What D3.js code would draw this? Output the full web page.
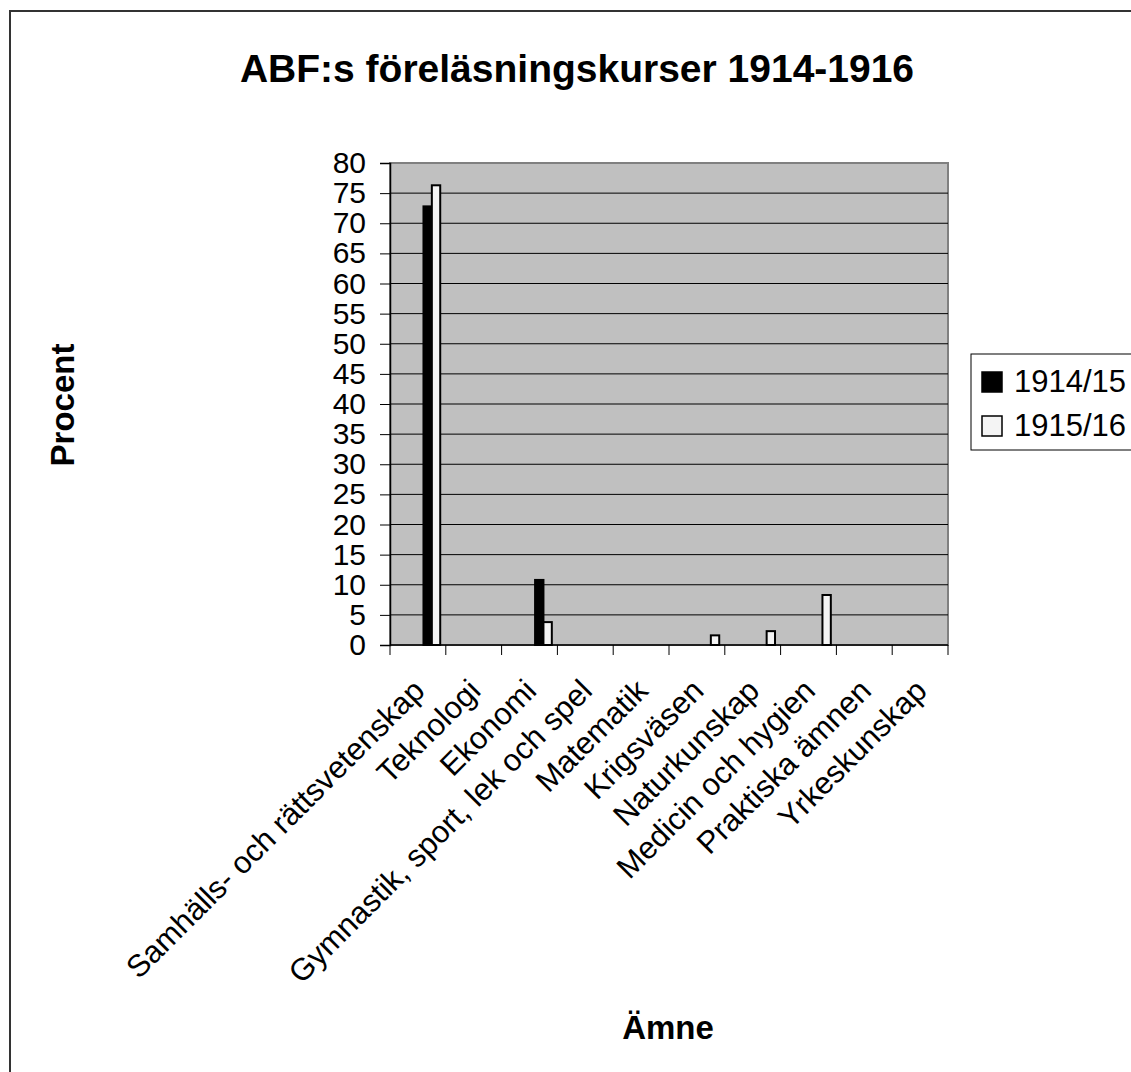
<!DOCTYPE html>
<html>
<head>
<meta charset="utf-8">
<script src="https://cdn.jsdelivr.net/npm/d3@7"></script>
<style>
  body { margin: 0; background: #fff; }
  svg { display: block; font-family: "Liberation Sans", Arial, sans-serif; }
</style>
</head>
<body>
<svg width="1131" height="1072"></svg>
<script>
const categories = ["Samhälls- och rättsvetenskap", "Teknologi", "Ekonomi", "Gymnastik, sport, lek och spel",
  "Matematik", "Krigsväsen", "Naturkunskap", "Medicin och hygien", "Praktiska ämnen", "Yrkeskunskap"];
const seriesNames = ["1914/15", "1915/16"];
const values1914 = [72.8, 0, 10.8, 0, 0, 0, 0, 0, 0, 0];
const values1915 = [76.3, 0, 3.8, 0, 0, 1.6, 2.3, 8.3, 0, 0];
const yTicks = d3.range(0, 81, 5);

const svg = d3.select("svg");
const fills = { "1914/15": "#000000", "1915/16": "#f4f4f4" };

// outer chart border (runs off the right/bottom edge like the original)
svg.append("rect").attr("x", 10).attr("y", 11).attr("width", 1140).attr("height", 1080)
  .attr("fill", "none").attr("stroke", "#333").attr("stroke-width", 2);

const pLeft = 390, pRight = 948, pTop = 163, pBottom = 645;
const x = d3.scaleBand().domain(categories).range([pLeft, pRight]).padding(0);
const y = d3.scaleLinear().domain([0, 80]).range([pBottom, pTop]);
// bars sit in the right part of each category slot (as in the source spreadsheet)
const xs = d3.scaleBand().domain(seriesNames).range([x.bandwidth() * 0.6, x.bandwidth() * 0.9]);

// plot area
svg.append("rect").attr("x", pLeft).attr("y", pTop).attr("width", pRight - pLeft).attr("height", pBottom - pTop)
  .attr("fill", "#c0c0c0").attr("stroke", "#808080").attr("stroke-width", 2);

// gridlines
svg.append("g").selectAll("line").data(yTicks.filter(d => d > 0 && d < 80)).join("line")
  .attr("x1", pLeft).attr("x2", pRight).attr("y1", d => y(d)).attr("y2", d => y(d))
  .attr("stroke", "#000").attr("stroke-width", 1);

// bars
const rows = categories.map((c, i) => ({ cat: c, "1914/15": values1914[i], "1915/16": values1915[i] }));
svg.append("g").selectAll("g").data(rows).join("g")
  .attr("transform", d => `translate(${x(d.cat)},0)`)
  .selectAll("rect").data(d => seriesNames.map(s => ({ s, v: d[s] })).filter(e => e.v > 0)).join("rect")
  .attr("x", d => xs(d.s)).attr("width", xs.bandwidth())
  .attr("y", d => y(d.v)).attr("height", d => y(0) - y(d.v))
  .attr("fill", d => fills[d.s]).attr("stroke", "#000").attr("stroke-width", 2);

// y axis
const yAxis = svg.append("g").attr("transform", `translate(${pLeft},0)`)
  .call(d3.axisLeft(y).tickValues(yTicks).tickSize(10).tickPadding(14).tickFormat(d3.format("d")));
yAxis.select(".domain").attr("stroke", "#000").attr("stroke-width", 1.5);
yAxis.selectAll(".tick line").attr("stroke", "#000");
yAxis.selectAll("text").attr("font-size", 30).attr("fill", "#000").attr("font-family", "Liberation Sans, Arial");

// x axis
const xAxis = svg.append("g").attr("transform", `translate(0,${pBottom})`);
xAxis.append("line").attr("x1", pLeft).attr("x2", pRight).attr("stroke", "#000").attr("stroke-width", 1.5);
const bounds = categories.map(c => x(c)).concat([pRight]);
xAxis.selectAll(".tk").data(bounds).join("line").attr("class", "tk")
  .attr("x1", d => d).attr("x2", d => d).attr("y1", 0).attr("y2", 10).attr("stroke", "#000");
xAxis.selectAll("text").data(categories).join("text")
  .attr("transform", d => `translate(${x(d) + x.bandwidth() / 2 - 7},${32}) rotate(-45)`)
  .attr("text-anchor", "end").attr("dy", "0.71em")
  .attr("font-size", 31).text(d => d);

// titles
svg.append("text").attr("x", 577).attr("y", 82).attr("text-anchor", "middle")
  .attr("font-size", 39).attr("font-weight", "bold").text("ABF:s föreläsningskurser 1914-1916");
svg.append("text").attr("transform", "translate(74,405) rotate(-90)").attr("text-anchor", "middle")
  .attr("font-size", 33).attr("font-weight", "bold").text("Procent");
svg.append("text").attr("x", 668).attr("y", 1039).attr("text-anchor", "middle")
  .attr("font-size", 33).attr("font-weight", "bold").text("Ämne");

// legend
const lg = svg.append("g").attr("transform", "translate(971,354)");
lg.append("rect").attr("width", 170).attr("height", 96).attr("fill", "#fff").attr("stroke", "#000").attr("stroke-width", 1);
const li = lg.selectAll("g").data(seriesNames).join("g").attr("transform", (d, i) => `translate(0,${i * 44})`);
li.append("rect").attr("x", 11).attr("y", 18).attr("width", 20).attr("height", 20)
  .attr("fill", d => fills[d]).attr("stroke", "#000").attr("stroke-width", 1.5);
li.append("text").attr("x", 43).attr("y", 38).attr("font-size", 31).text(d => d);
</script>
</body>
</html>
